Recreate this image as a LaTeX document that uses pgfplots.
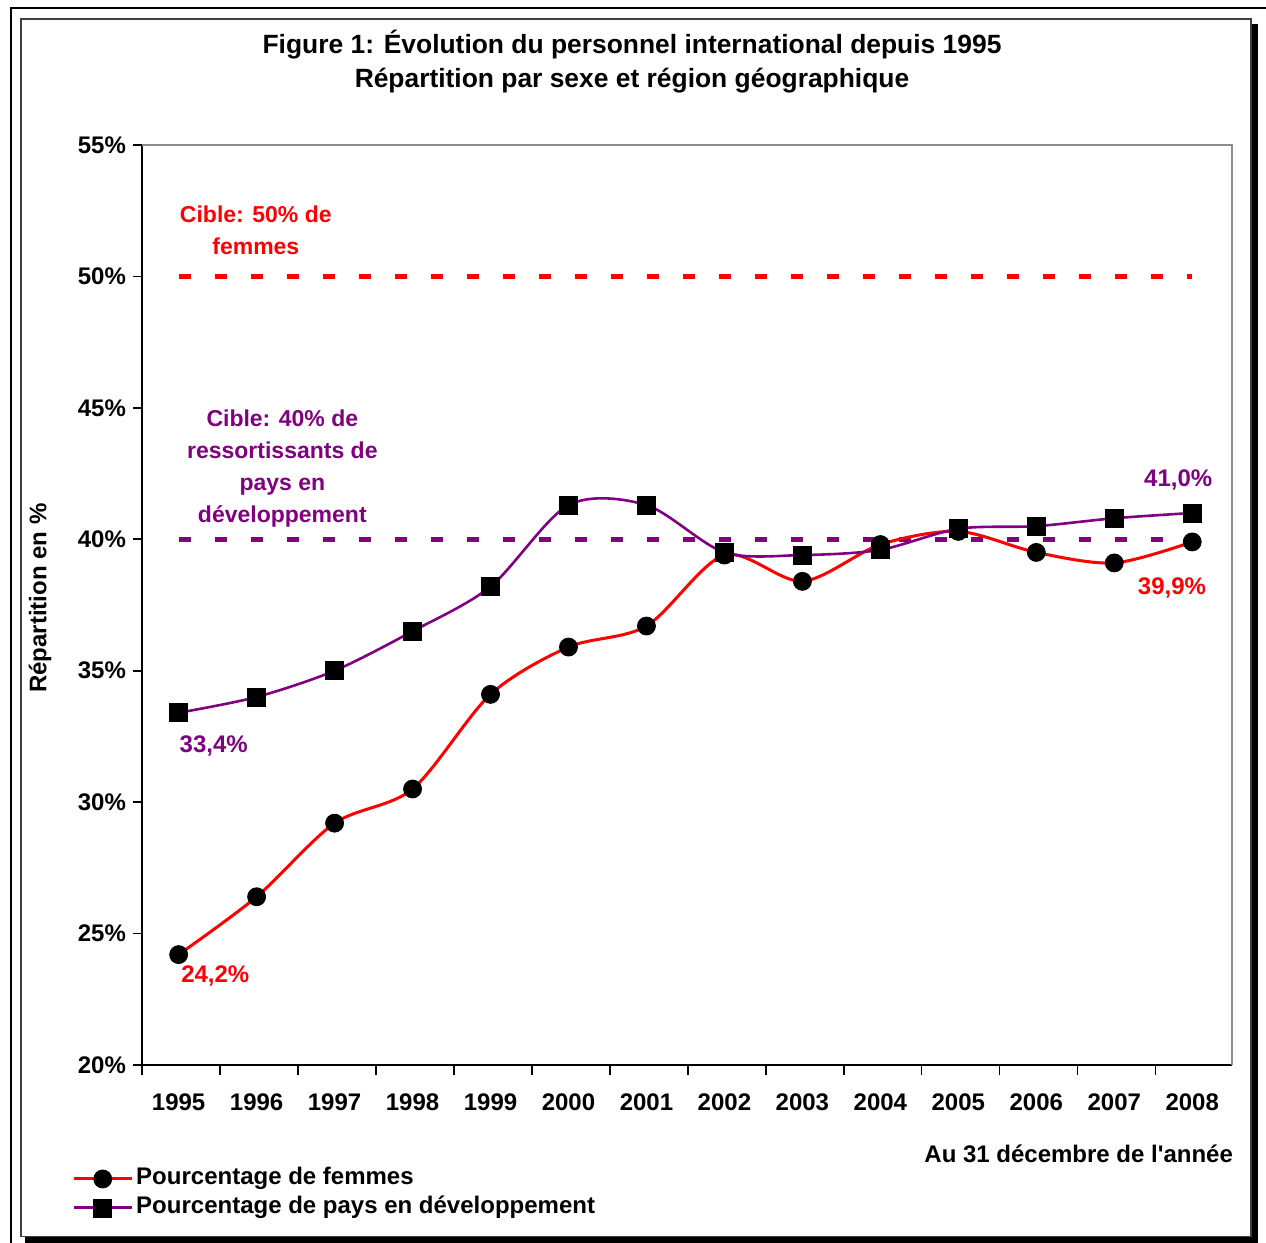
\documentclass[border=0pt]{standalone}
\usepackage{fontspec}
\setmainfont{Liberation Sans}
\usepackage{pgfplots}
\pgfplotsset{compat=1.18}
\definecolor{cred}{RGB}{255,0,0}
\definecolor{cpurple}{RGB}{128,0,128}
\begin{document}
\begin{tikzpicture}[x=1pt,y=1pt]
\useasboundingbox (0,0) rectangle (633,621.5);
% outer frame
\draw[line width=1pt] (5.5,-5) -- (5.5,617.5) -- (640,617.5);
% shadow and inner frame
\fill[black] (12.5,-5) rectangle (629.2,609.5);
\filldraw[fill=white, draw=black!75, line width=0.8pt] (10.5,3.2) rectangle (625.5,612);
% title
\node[font=\fontsize{13.2}{15}\selectfont\bfseries] at (316,599) {Figure 1: Évolution du personnel international depuis 1995};
\node[font=\fontsize{13.2}{15}\selectfont\bfseries] at (316,581) {Répartition par sexe et région géographique};
\begin{axis}[
  at={(71pt,89pt)}, anchor=south west,
  scale only axis, width=545pt, height=460pt,
  xmin=-0.47, xmax=13.51, ymin=20, ymax=55,
  axis lines=left, axis line style={-, black, line width=0.8pt},
  tick align=outside,
  major tick length=4.5pt, minor tick length=5pt,
  every tick/.style={black, line width=0.8pt},
  xtick={0,...,13},
  xticklabels={1995,1996,1997,1998,1999,2000,2001,2002,2003,2004,2005,2006,2007,2008},
  major x tick style={draw=none},
  minor xtick={-0.47,0.53,...,13.53},
  ytick={20,25,...,55},
  yticklabel={\pgfmathprintnumber{\tick}\%},
  /pgf/number format/assume math mode=true,
  tick label style={font=\fontsize{12}{14}\selectfont\bfseries},
  xticklabel style={yshift=-6.5pt},
  ylabel={Répartition en \%},
  ylabel style={font=\fontsize{12}{14}\selectfont\bfseries, at={(axis description cs:-0.0936,0.5076)}, anchor=center, rotate=0},
  legend style={at={(axis description cs:-0.064,-0.1076)}, anchor=north west, draw=none, fill=none, inner sep=0pt, outer sep=0pt, font=\fontsize{12}{14}\selectfont\bfseries, row sep=-0.5pt, nodes={inner sep=1.5pt, text height=9pt, text depth=3pt}},
  legend cell align=left,
  legend image code/.code={\draw[mark repeat=2,mark phase=2,#1, line width=1.5pt] plot coordinates {(0pt,0pt) (14.5pt,0pt) (29pt,0pt)};},
  clip=false,
]
\addplot[cred, line width=2.75pt, dash pattern=on 6pt off 12pt, forget plot] coordinates {(0,50) (13,50)};
\addplot[cpurple, line width=2.75pt, dash pattern=on 6pt off 12pt, forget plot] coordinates {(0,40) (13,40)};
\addplot[cred, line width=1.5pt, smooth, mark=*, mark size=4.5pt, mark options={solid, fill=black, draw=black, line width=0.4pt}] coordinates {
(0,24.2) (1,26.4) (2,29.2) (3,30.5) (4,34.1) (5,35.9) (6,36.7) (7,39.4) (8,38.4) (9,39.8) (10,40.3) (11,39.5) (12,39.1) (13,39.9)};
\addlegendentry{Pourcentage de femmes}
\addplot[cpurple, line width=1.3pt, smooth, mark=square*, mark size=4.5pt, mark options={solid, fill=black, draw=black, line width=0.4pt}] coordinates {
(0,33.4) (1,34.0) (2,35.0) (3,36.5) (4,38.2) (5,41.3) (6,41.3) (7,39.5) (8,39.4) (9,39.6) (10,40.4) (11,40.5) (12,40.8) (13,41.0)};
\addlegendentry{Pourcentage de pays en développement}
\draw[black!45, line width=0.8pt] (rel axis cs:0,1) -- (rel axis cs:1,1) -- (rel axis cs:1,0);
\node[cpurple, font=\fontsize{12}{14}\selectfont\bfseries] at (axis cs:0.45,32.14) {33,4\%};
\node[cred, font=\fontsize{12}{14}\selectfont\bfseries] at (axis cs:0.47,23.39) {24,2\%};
\node[cpurple, font=\fontsize{12}{14}\selectfont\bfseries] at (axis cs:12.82,42.26) {41,0\%};
\node[cred, font=\fontsize{12}{14}\selectfont\bfseries] at (axis cs:12.74,38.15) {39,9\%};
\node[cred, font=\fontsize{11.5}{16}\selectfont\bfseries, align=center] at (axis cs:0.99,51.77) {Cible: 50\% de\\femmes};
\node[cpurple, font=\fontsize{11.5}{16}\selectfont\bfseries, align=center] at (axis cs:1.33,42.68) {Cible: 40\% de\\ressortissants de\\pays en\\développement};
\end{axis}
\node[font=\fontsize{12}{14}\selectfont\bfseries, anchor=east] at (620,44.5) {Au 31 décembre de l\textquotesingle année};
\end{tikzpicture}
\end{document}
